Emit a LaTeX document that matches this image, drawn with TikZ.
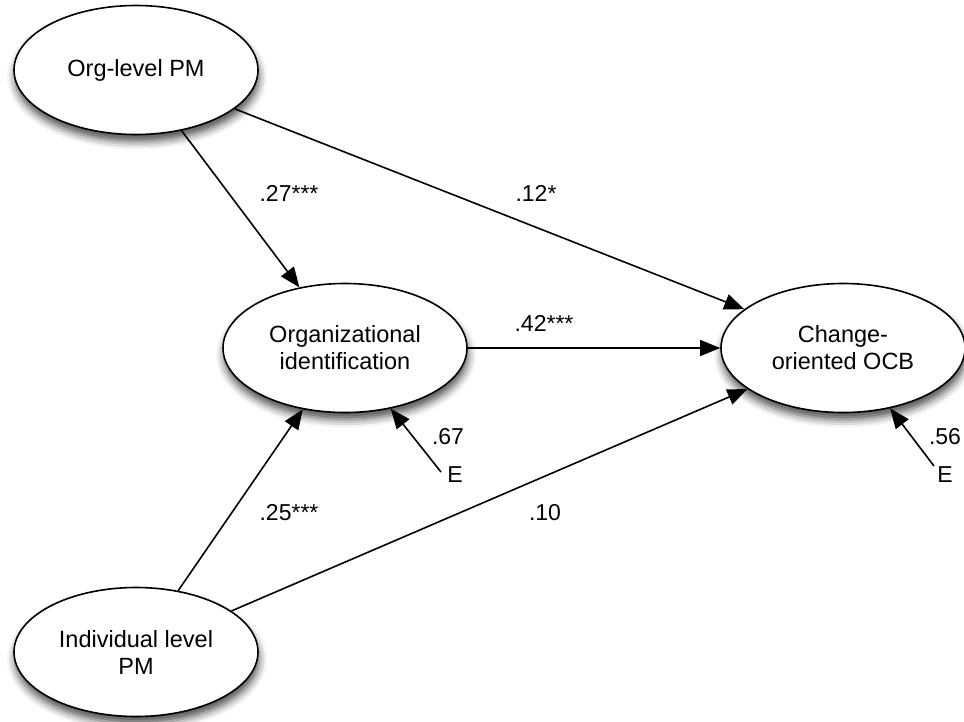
\documentclass[tikz,border=0pt]{standalone}
\usepackage{fontspec}
\setmainfont{Liberation Sans}
\usetikzlibrary{arrows.meta,shapes.geometric,shadows.blur}
\begin{document}
\begin{tikzpicture}[x=1pt,y=-1pt,
  latent/.style={ellipse,draw=black,line width=1.6pt,fill=white,inner sep=0pt,
    minimum width=244pt,minimum height=129pt,align=center,
    font=\fontsize{23.5}{27}\selectfont,
    blur shadow={shadow xshift=1pt,shadow yshift=-7pt,shadow blur radius=8pt,shadow opacity=70}},
  lbl/.style={inner sep=1pt,font=\fontsize{23}{27}\selectfont},
  arr/.style={line width=1.6pt,-{Triangle[length=20pt,width=16pt]}}]
\useasboundingbox (0,0) rectangle (964,721);
\node[latent] (org) at (136,70) {Org-level PM};
\node[latent] (orgid) at (345,348) {Organizational\\identification};
\node[latent] (ocb) at (843,348) {Change-\\oriented OCB};
\node[latent] (ind) at (136,652) {Individual level\\PM};
\draw[arr] (org) -- (orgid);
\draw[arr] (org) -- (ocb);
\draw[arr] (orgid) -- (ocb);
\draw[arr] (ind) -- (orgid);
\draw[arr] (ind) -- (ocb);
\node[lbl] (e1) at (455,475) {E};
\node[lbl] (e2) at (945,475) {E};
\coordinate (t1) at (441,472);
\coordinate (t2) at (934,466);
\draw[arr] (t1) -- (orgid.-53);
\draw[arr] (t2) -- (ocb.-52);
\node[lbl] (l27) at (289,193) {.27***};
\node[lbl] (l12) at (536,193) {.12*};
\node[lbl] (l42) at (544,323) {.42***};
\node[lbl] (l67) at (448,437) {.67};
\node[lbl] (l56) at (945,437) {.56};
\node[lbl] (l25) at (289,513) {.25***};
\node[lbl] (l10) at (545,513) {.10};
\end{tikzpicture}
\end{document}
